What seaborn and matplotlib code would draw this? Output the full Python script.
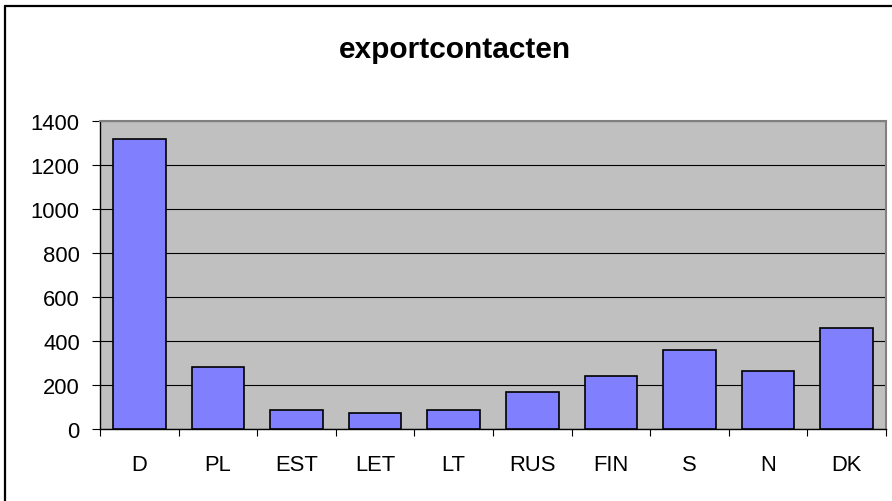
import matplotlib
matplotlib.use("Agg")

import pandas as pd
import numpy as np
import matplotlib.pyplot as plt
from matplotlib.lines import Line2D
import seaborn as sns

# data
countries = ["D", "PL", "EST", "LET", "LT", "RUS", "FIN", "S", "N", "DK"]
contacts = [1320, 280, 85, 75, 85, 170, 240, 360, 265, 460]
y_ticks = [0, 200, 400, 600, 800, 1000, 1200, 1400]
title = "exportcontacten"

df = pd.DataFrame({"land": countries, "aantal": contacts})

sns.set_style("white")
plt.rcParams["font.family"] = ["Liberation Sans", "DejaVu Sans"]
plt.rcParams["text.color"] = "black"
plt.rcParams["xtick.color"] = "black"
plt.rcParams["ytick.color"] = "black"
plt.rcParams["xtick.labelcolor"] = "black"
plt.rcParams["ytick.labelcolor"] = "black"

W, H = 892, 502
fig = plt.figure(figsize=(W / 100, H / 100), dpi=100)
fig.patch.set_facecolor("white")

# plot area in pixel coordinates (left, top, right, bottom)
px_l, px_t, px_r, px_b = 100, 122, 886, 430
ax = fig.add_axes([px_l / W, 1 - px_b / H, (px_r - px_l) / W, (px_b - px_t) / H])
ax.set_facecolor("#C0C0C0")

sns.barplot(data=df, x="land", y="aantal", ax=ax, color="#8080FF",
            saturation=1, width=0.67, edgecolor="black", linewidth=1.2,
            zorder=3)

ax.set_ylim(0, 1400)
ax.set_xlim(-0.5, len(countries) - 0.5)
ax.set_yticks(y_ticks)
ax.set_yticklabels([str(t) for t in y_ticks])
ax.yaxis.grid(True, color="black", linewidth=0.8)
ax.set_axisbelow(True)
ax.set_xlabel("")
ax.set_ylabel("")

# tick marks between categories, labels centred under bars
ax.set_xticks(np.arange(-0.5, len(countries), 1.0), minor=True)
ax.tick_params(axis="x", which="minor", length=5, width=0.8, color="black",
               direction="out", bottom=True)
ax.tick_params(axis="x", which="major", length=0, pad=18, labelsize=15.8,
               labelcolor="black")
ax.tick_params(axis="y", length=6, width=0.8, color="black", direction="out",
               left=True, pad=8.5, labelsize=15.8, labelcolor="black")

for side in ["left", "bottom"]:
    ax.spines[side].set_color("black")
    ax.spines[side].set_linewidth(1.0)
for side in ["top", "right"]:
    ax.spines[side].set_visible(True)
    ax.spines[side].set_color("#808080")
    ax.spines[side].set_linewidth(1.5)

fig.text(454.5 / W, 1 - 50 / H, title, ha="center", va="center",
         fontsize=21.5, fontweight="bold", color="black")

# outer chart frame (right and bottom edges fall outside the image)
fig.add_artist(Line2D([5 / W, 1.0], [1 - 7 / H, 1 - 7 / H], color="black",
                      linewidth=1.6, transform=fig.transFigure))
fig.add_artist(Line2D([5 / W, 5 / W], [0.0, 1 - 7 / H], color="black",
                      linewidth=1.6, transform=fig.transFigure))

fig.savefig("out.png", dpi=100)
